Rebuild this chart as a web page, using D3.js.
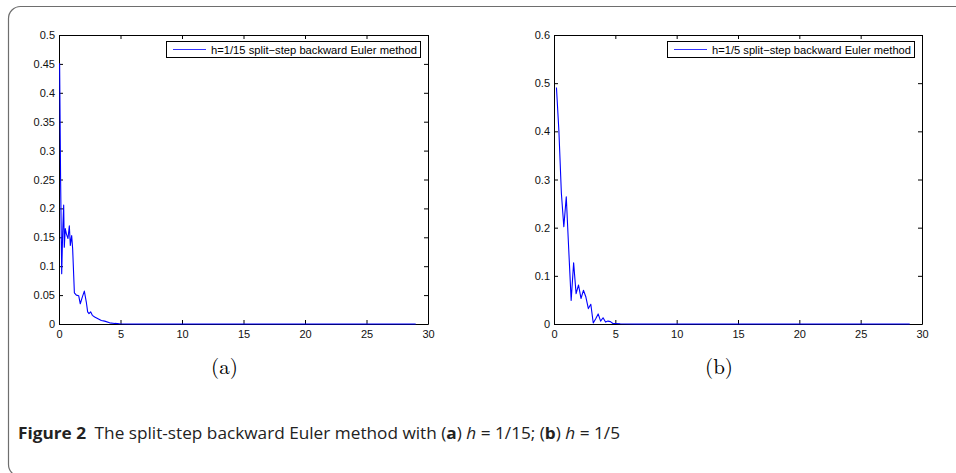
<!DOCTYPE html>
<html><head><meta charset="utf-8">
<script src="https://cdn.jsdelivr.net/npm/d3@7"></script>
<style>
html,body{margin:0;padding:0;background:#fff;}
svg{display:block;}
</style></head>
<body>
<svg id="c" width="956" height="473"></svg>
<script>
// ---- data ----
const xTickValues = [0, 5, 10, 15, 20, 25, 30];
const xTickLabels = ["0", "5", "10", "15", "20", "25", "30"];

const yTickValuesA = [0, 0.05, 0.1, 0.15, 0.2, 0.25, 0.3, 0.35, 0.4, 0.45, 0.5];
const yTickLabelsA = ["0", "0.05", "0.1", "0.15", "0.2", "0.25", "0.3", "0.35", "0.4", "0.45", "0.5"];
const yTickValuesB = [0, 0.1, 0.2, 0.3, 0.4, 0.5, 0.6];
const yTickLabelsB = ["0", "0.1", "0.2", "0.3", "0.4", "0.5", "0.6"];

const legendA = "h=1/15 split\u2212step backward Euler method";
const legendB = "h=1/5 split\u2212step backward Euler method";

// panel (a): h = 1/15
const tA = [0.05, 0.13, 0.22, 0.3, 0.38, 0.43, 0.51, 0.6, 0.73, 0.84, 0.92, 1.03, 1.11, 1.25, 1.41, 1.6, 1.73, 1.9, 2.06, 2.22, 2.33, 2.44, 2.57, 2.71, 2.9, 3.17, 3.44, 3.71, 4.12, 4.53, 4.93, 6, 29];
const vA = [0.451, 0.25, 0.087, 0.16, 0.206, 0.133, 0.165, 0.156, 0.148, 0.170, 0.136, 0.153, 0.13, 0.054, 0.05, 0.049, 0.035, 0.047, 0.057, 0.038, 0.021, 0.018, 0.021, 0.015, 0.012, 0.009, 0.006, 0.005, 0.002, 0.001, 0.0005, 0, 0];

// panel (b): h = 1/5
const tB = [0.2, 0.4, 0.6, 0.8, 1.0, 1.2, 1.4, 1.6, 1.8, 2.0, 2.2, 2.4, 2.6, 2.8, 3.0, 3.2, 3.4, 3.6, 3.8, 4.0, 4.2, 4.4, 4.6, 4.8, 5.0, 5.4, 6.6, 29];
const vB = [0.491, 0.40, 0.272, 0.202, 0.264, 0.155, 0.049, 0.127, 0.063, 0.081, 0.053, 0.070, 0.056, 0.032, 0.041, 0.002, 0.011, 0.021, 0.006, 0.013, 0.004, 0.006, 0.005, 0.001, 0.001, 0.0005, 0, 0];

// ---- drawing ----
const svg = d3.select("#c");
const FONT = "'Liberation Sans', Arial, Helvetica, sans-serif";

// outer frame
svg.append("rect")
  .attr("x", 8.5).attr("y", 6.5)
  .attr("width", 990).attr("height", 470)
  .attr("rx", 12).attr("ry", 12)
  .attr("fill", "none").attr("stroke", "#6e6e6e").attr("stroke-width", 1.2);

function panel(cfg) {
  const x = d3.scaleLinear().domain([0, 30]).range([cfg.left, cfg.right]);
  const y = d3.scaleLinear().domain(cfg.yDomain).range([cfg.bottom, cfg.top]);
  const g = svg.append("g");

  // axes with inward ticks
  const gb = g.append("g").attr("transform", `translate(0,${cfg.bottom})`)
    .call(d3.axisBottom(x).tickValues(xTickValues).tickFormat((d, i) => xTickLabels[i]).tickSize(-4).tickSizeOuter(0).tickPadding(6));
  const gt = g.append("g").attr("transform", `translate(0,${cfg.top})`)
    .call(d3.axisTop(x).tickValues(xTickValues).tickFormat("").tickSize(-4).tickSizeOuter(0));
  const gl = g.append("g").attr("transform", `translate(${cfg.left},0)`)
    .call(d3.axisLeft(y).tickValues(cfg.yTicks).tickFormat((d, i) => cfg.yLabels[i]).tickSize(-4).tickSizeOuter(0).tickPadding(4));
  const gr = g.append("g").attr("transform", `translate(${cfg.right},0)`)
    .call(d3.axisRight(y).tickValues(cfg.yTicks).tickFormat("").tickSize(-4).tickSizeOuter(0));

  [gb, gt, gl, gr].forEach(a => {
    a.attr("font-family", FONT).attr("font-size", 11);
    a.selectAll("path.domain").attr("stroke", "#000").attr("stroke-width", 1);
    a.selectAll(".tick line").attr("stroke", "#000").attr("stroke-width", 1);
    a.selectAll("text").attr("fill", "#111");
  });

  // data line
  const pts = cfg.t.map((t, i) => [t, cfg.v[i]]);
  const line = d3.line().x(d => x(d[0])).y(d => y(d[1]));
  g.append("path").datum(pts)
    .attr("d", line)
    .attr("fill", "none").attr("stroke", "#0000ff").attr("stroke-width", 1.1)
    .attr("stroke-linejoin", "round");

  // legend
  const lg = g.append("g");
  const boxR = cfg.right - 8, boxT = cfg.top + 6, boxH = 16;
  const boxW = 7 + 33 + 5 + cfg.legendW + 3;
  const boxL = boxR - boxW;
  lg.append("rect")
    .attr("x", boxL + 0.5).attr("y", boxT + 0.5).attr("width", boxW).attr("height", boxH)
    .attr("fill", "#fff").attr("stroke", "#000").attr("stroke-width", 1);
  lg.append("line")
    .attr("x1", boxL + 7).attr("x2", boxL + 40)
    .attr("y1", boxT + 8.5).attr("y2", boxT + 8.5)
    .attr("stroke", "#3333ff").attr("stroke-width", 1.2);
  lg.append("text").text(cfg.legend)
    .attr("font-family", FONT).attr("font-size", 11).attr("fill", "#000")
    .attr("x", boxL + 45).attr("y", boxT + 12.5)
    .attr("textLength", cfg.legendW).attr("lengthAdjust", "spacingAndGlyphs");

  // sub-label
  svg.append("text").text(cfg.sub)
    .attr("x", (cfg.left + cfg.right) / 2 - 19).attr("y", 374)
    .attr("text-anchor", "middle")
    .attr("font-family", "'Latin Modern Roman','DejaVu Serif','Liberation Serif',serif")
    .attr("font-size", 21)
    .attr("fill", "#000");
}

panel({left: 59, right: 428, top: 35, bottom: 324, yDomain: [0, 0.5],
       yTicks: yTickValuesA, yLabels: yTickLabelsA, t: tA, v: vA, legend: legendA, legendW: 206, sub: "(a)"});
panel({left: 554, right: 922, top: 35, bottom: 324, yDomain: [0, 0.6],
       yTicks: yTickValuesB, yLabels: yTickLabelsB, t: tB, v: vB, legend: legendB, legendW: 199, sub: "(b)"});

// caption
const cap = svg.append("text")
  .attr("x", 18).attr("y", 439)
  .attr("font-family", "'Open Sans','Noto Sans',sans-serif")
  .attr("font-size", 16)
  .attr("fill", "#222")
  .attr("textLength", 602).attr("lengthAdjust", "spacingAndGlyphs");
cap.append("tspan").text("Figure 2").attr("font-weight", "bold");
cap.append("tspan").text("\u2002The split-step backward Euler method with (");
cap.append("tspan").text("a").attr("font-weight", "bold");
cap.append("tspan").text(") ");
cap.append("tspan").text("h").attr("font-style", "italic");
cap.append("tspan").text(" = 1/15; (");
cap.append("tspan").text("b").attr("font-weight", "bold");
cap.append("tspan").text(") ");
cap.append("tspan").text("h").attr("font-style", "italic");
cap.append("tspan").text(" = 1/5");
</script>
</body></html>
